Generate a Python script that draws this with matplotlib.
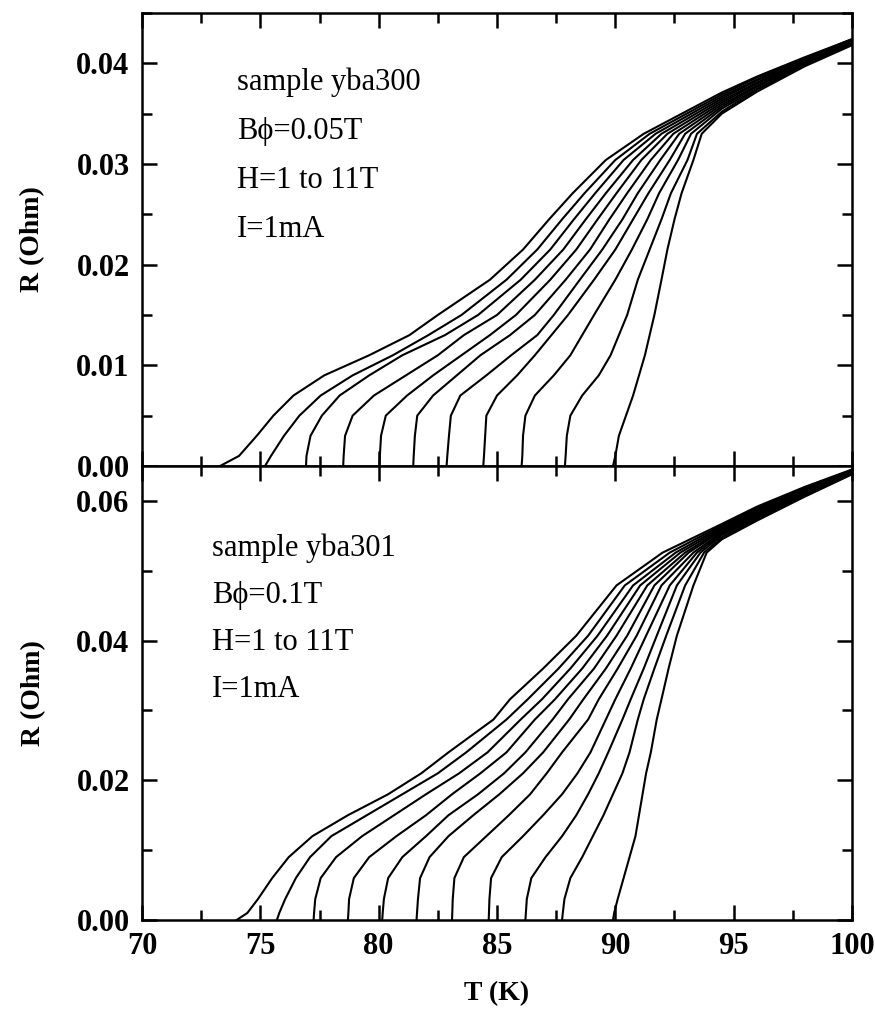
import matplotlib
matplotlib.use('Agg')
import matplotlib.pyplot as plt
from matplotlib.ticker import MultipleLocator, FormatStrFormatter

plt.rcParams['font.family'] = ['Liberation Serif', 'DejaVu Serif']

# resistance levels (Ohm) and the temperature (K) where each curve crosses them
R_top = [0, .001, .003, .005, .007, .009, .011, .013, .015, .0185, .0215, .0245, .0271, .0304, .033]
T_top = [
    [73.3, 74.1, 74.85, 75.55, 76.4, 77.7, 79.6, 81.3, 82.5, 84.7, 86.1, 87.2, 88.2, 89.6, 91.2],
    [75.2, 75.45, 76.0, 76.65, 77.55, 78.9, 80.6, 82.1, 83.5, 85.4, 86.7, 87.75, 88.7, 90.0, 91.45],
    [76.93, 76.95, 77.12, 77.6, 78.35, 79.6, 81.0, 82.8, 84.2, 86.0, 87.25, 88.25, 89.15, 90.35, 91.7],
    [78.5, 78.52, 78.58, 78.9, 79.8, 81.15, 82.5, 83.6, 85.0, 86.6, 87.8, 88.75, 89.6, 90.75, 91.95],
    [80.03, 80.05, 80.1, 80.3, 81.2, 82.3, 83.5, 84.7, 85.8, 87.25, 88.35, 89.25, 90.05, 91.1, 92.2],
    [81.46, 81.48, 81.53, 81.63, 82.3, 83.3, 84.3, 85.55, 86.6, 87.9, 88.93, 89.75, 90.5, 91.5, 92.45],
    [82.87, 82.9, 82.97, 83.05, 83.45, 84.55, 85.6, 86.7, 87.4, 88.5, 89.45, 90.3, 90.95, 91.9, 92.7],
    [84.42, 84.45, 84.5, 84.55, 85.0, 85.85, 86.6, 87.3, 88.0, 89.1, 90.0, 90.75, 91.4, 92.3, 92.95],
    [86.04, 86.07, 86.1, 86.2, 86.6, 87.4, 88.1, 88.6, 89.1, 90.0, 90.7, 91.35, 91.85, 92.65, 93.2],
    [87.87, 87.9, 87.95, 88.1, 88.6, 89.3, 89.8, 90.15, 90.5, 90.95, 91.45, 91.95, 92.35, 93.05, 93.45],
    [89.9, 90.0, 90.15, 90.45, 90.75, 91.0, 91.25, 91.45, 91.65, 91.95, 92.2, 92.5, 92.8, 93.3, 93.65],
]

R_bot = [0, .001, .003, .006, .009, .012, .015, .018, .021, .024, .0287, .0316, .036, .0407, .0479, .0526]
T_bot = [
    [74.0, 74.45, 74.9, 75.5, 76.2, 77.2, 78.7, 80.4, 81.8, 82.95, 84.85, 85.55, 86.95, 88.35, 90.05, 92.0],
    [75.7, 75.8, 76.05, 76.5, 77.1, 78.0, 79.5, 81.0, 82.5, 83.7, 85.4, 86.3, 87.6, 88.85, 90.4, 92.3],
    [77.25, 77.27, 77.32, 77.55, 78.2, 79.3, 80.65, 82.0, 83.4, 84.6, 86.0, 86.9, 88.1, 89.25, 90.75, 92.55],
    [78.7, 78.72, 78.75, 78.95, 79.6, 80.75, 82.0, 83.1, 84.3, 85.4, 86.6, 87.45, 88.6, 89.65, 91.05, 92.75],
    [80.15, 80.17, 80.22, 80.4, 81.0, 82.0, 82.95, 84.2, 85.3, 86.2, 87.35, 88.0, 89.1, 90.05, 91.35, 92.95],
    [81.6, 81.62, 81.66, 81.75, 82.15, 82.95, 84.0, 85.1, 86.1, 86.95, 88.05, 88.65, 89.6, 90.5, 91.65, 93.1],
    [83.1, 83.11, 83.13, 83.2, 83.6, 84.55, 85.5, 86.4, 87.1, 87.75, 88.85, 89.3, 90.1, 90.9, 91.95, 93.3],
    [84.65, 84.66, 84.68, 84.75, 85.2, 86.1, 86.95, 87.75, 88.4, 88.95, 89.6, 90.0, 90.65, 91.3, 92.3, 93.45],
    [86.2, 86.22, 86.26, 86.45, 87.05, 87.75, 88.35, 88.85, 89.3, 89.7, 90.3, 90.65, 91.2, 91.75, 92.6, 93.6],
    [87.75, 87.78, 87.85, 88.1, 88.6, 89.05, 89.5, 89.9, 90.3, 90.6, 90.95, 91.2, 91.65, 92.15, 92.95, 93.75],
    [89.9, 89.95, 90.1, 90.35, 90.6, 90.85, 91.0, 91.15, 91.3, 91.5, 91.75, 91.95, 92.25, 92.6, 93.3, 93.86],
]

# normal state part, where all curves run together
T_hi = [94.5, 96, 98, 100]
R_hi_top = [
    [.0371, .0387, .0406, .0424],
    [.0369, .0386, .0405, .0424],
    [.0367, .0384, .0404, .0423],
    [.0365, .0383, .0403, .0423],
    [.0363, .0381, .0402, .0422],
    [.0361, .0380, .0401, .0421],
    [.0359, .0378, .0400, .0421],
    [.0357, .0377, .0400, .0420],
    [.0355, .0375, .0399, .0420],
    [.0352, .0374, .0398, .0419],
    [.0350, .0372, .0397, .0418],
]
R_hi_bot = [
    [.0567, .0592, .0620, .0645],
    [.0565, .0590, .0619, .0644],
    [.0563, .0588, .0617, .0644],
    [.0561, .0586, .0616, .0643],
    [.0559, .0584, .0615, .0642],
    [.0557, .0582, .0613, .0642],
    [.0555, .0580, .0612, .0641],
    [.0553, .0578, .0610, .0640],
    [.0551, .0576, .0609, .0640],
    [.0548, .0574, .0607, .0639],
    [.0545, .0572, .0606, .0638],
]

text_top = ['sample yba300', 'B\u03d5=0.05T', 'H=1 to 11T', 'I=1mA']
text_bot = ['sample yba301', 'B\u03d5=0.1T', 'H=1 to 11T', 'I=1mA']

fig = plt.figure(figsize=(8.75, 10.23), dpi=100)
ax1 = fig.add_axes([0.1623, 0.5445, 0.8114, 0.4428])
ax2 = fig.add_axes([0.1623, 0.1007, 0.8114, 0.4438])


def style(ax, ymax, ymaj, ymin):
    ax.set_xlim(70, 100)
    ax.set_ylim(0, ymax)
    ax.xaxis.set_major_locator(MultipleLocator(5))
    ax.xaxis.set_minor_locator(MultipleLocator(2.5))
    ax.yaxis.set_major_locator(MultipleLocator(ymaj))
    ax.yaxis.set_minor_locator(MultipleLocator(ymin))
    ax.yaxis.set_major_formatter(FormatStrFormatter('%.2f'))
    ax.tick_params(which='both', direction='in', top=True, right=True, width=1.8)
    ax.tick_params(which='major', length=11, labelsize=22, pad=9)
    ax.tick_params(which='minor', length=7)
    for s in ax.spines.values():
        s.set_linewidth(1.8)
    for lab in ax.get_xticklabels() + ax.get_yticklabels():
        lab.set_fontweight('bold')
    ax.set_ylabel('R (Ohm)', fontsize=20, fontweight='bold', labelpad=22)


for i in range(11):
    ax1.plot(T_top[i] + T_hi, R_top + R_hi_top[i], color='black', lw=1.5)
    ax2.plot(T_bot[i] + T_hi, R_bot + R_hi_bot[i], color='black', lw=1.5)

style(ax1, 0.045, 0.01, 0.005)
style(ax2, 0.065, 0.02, 0.01)
ax1.tick_params(labelbottom=False)
ax2.set_xlabel('T (K)', fontsize=20, fontweight='bold', labelpad=14)

for k, s in enumerate(text_top):
    ax1.text(0.134, 0.848 - k * 0.109, s, transform=ax1.transAxes, fontsize=22, va='center')
for k, s in enumerate(text_bot):
    ax2.text(0.099, 0.819 - k * 0.104, s, transform=ax2.transAxes, fontsize=22, va='center')

fig.savefig('out.png', dpi=100)
